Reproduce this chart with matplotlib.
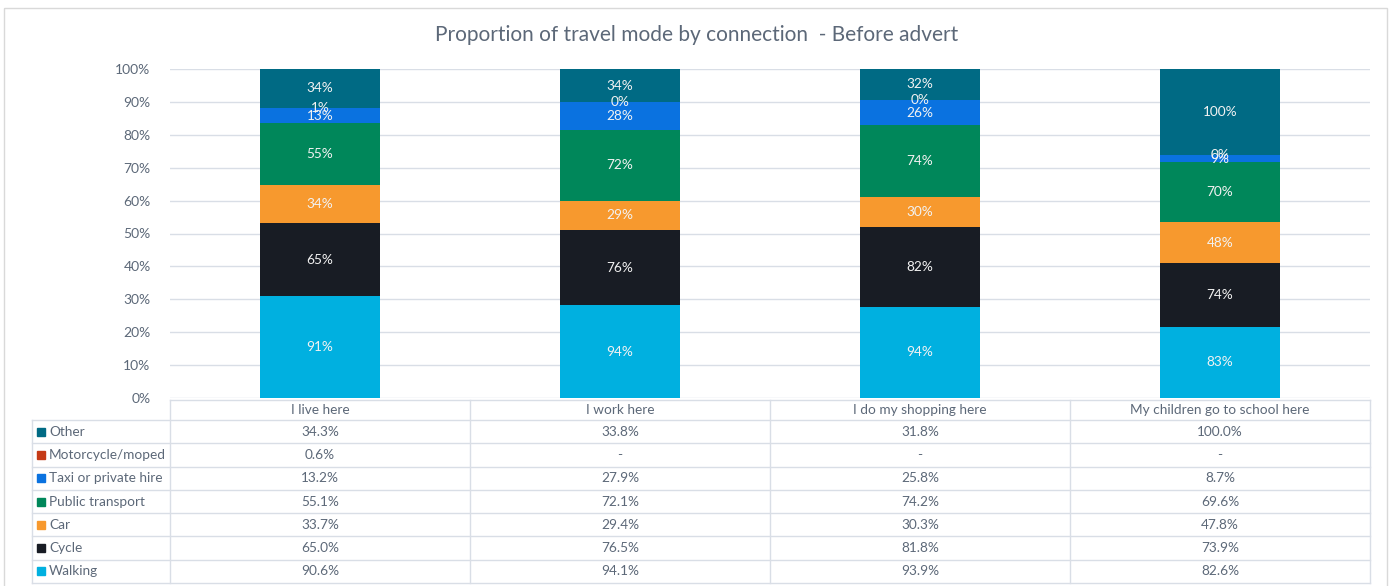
import matplotlib
matplotlib.use('Agg')
import matplotlib.pyplot as plt
from matplotlib.patches import Rectangle
import numpy as np

plt.rcParams['font.family'] = ['Lato', 'DejaVu Sans']

# data (raw % per connection, shown in the table)
connections = ['I live here', 'I work here', 'I do my shopping here', 'My children go to school here']
modes = ['Walking', 'Cycle', 'Car', 'Public transport', 'Taxi or private hire', 'Motorcycle/moped', 'Other']
walking = [90.6, 94.1, 93.9, 82.6]
cycle = [65.0, 76.5, 81.8, 73.9]
car = [33.7, 29.4, 30.3, 47.8]
public_transport = [55.1, 72.1, 74.2, 69.6]
taxi = [13.2, 27.9, 25.8, 8.7]
motorcycle = [0.6, 0.0, 0.0, 0.0]
other = [34.3, 33.8, 31.8, 100.0]
colors = ['#00B0E0', '#181C24', '#F7992E', '#00875A', '#0A72E0', '#C53A16', '#006A84']

values = np.array([walking, cycle, car, public_transport, taxi, motorcycle, other])
share = values / values.sum(axis=0)

txt = '#5C6878'
grid = '#D9DEE6'
W, H = 1394, 586
fig = plt.figure(figsize=(W / 100, H / 100), dpi=100)

# layout in pixels
left, right, top, bottom = 170, 1370, 69, 398
ax = fig.add_axes([left / W, (H - bottom) / H, (right - left) / W, (bottom - top) / H])

x = np.arange(len(connections))
base = np.zeros(len(connections))
for i, m in enumerate(modes):
    ax.bar(x, share[i], 0.4, bottom=base, color=colors[i], zorder=2)
    for j in range(len(x)):
        ax.text(x[j], base[j] + share[i][j] / 2, '%d%%' % round(values[i][j]),
                ha='center', va='center', color='#F2F2F2', fontsize=9.8, zorder=3)
    base += share[i]

ax.set_xlim(-0.5, len(connections) - 0.5)
ax.set_ylim(0, 1)
ax.set_yticks(np.arange(0, 1.01, 0.1))
ax.set_yticklabels(['%d%%' % round(t * 100) for t in np.arange(0, 1.01, 0.1)])
ax.set_xticks([])
ax.tick_params(axis='y', length=0, pad=14, labelsize=10, labelcolor=txt)
ax.grid(axis='y', color=grid, lw=1, zorder=0)
for s in ax.spines.values():
    s.set_visible(False)

# overlay in pixel coords for title, border and data table
ov = fig.add_axes([0, 0, 1, 1])
ov.set_xlim(0, W)
ov.set_ylim(H, 0)
ov.axis('off')
ov.patch.set_alpha(0)

ov.add_patch(Rectangle((4, 8), 1383, 600, fill=False, ec='#D9D9D9', lw=1))
ov.text(W / 2, 35, 'Proportion of travel mode by connection  - Before advert',
        ha='center', va='center', fontsize=15, color=txt)

col_w = (right - left) / len(connections)
head_top, head_bot, tab_bot, lab_left = 400, 420, 583, 32
row_h = (tab_bot - head_bot) / len(modes)

ov.plot([left, right], [head_top, head_top], color=grid, lw=1)
for k in range(len(modes) + 1):
    yy = head_bot + k * row_h
    ov.plot([lab_left, right], [yy, yy], color=grid, lw=1)
ov.plot([lab_left, lab_left], [head_bot, tab_bot], color=grid, lw=1)
for j in range(len(connections) + 1):
    xx = left + j * col_w
    ov.plot([xx, xx], [head_top, tab_bot], color=grid, lw=1)

for j, c in enumerate(connections):
    ov.text(left + (j + 0.5) * col_w, (head_top + head_bot) / 2, c,
            ha='center', va='center', fontsize=9.8, color=txt)

# table rows go top to bottom in reverse stacking order
for r, i in enumerate(range(len(modes) - 1, -1, -1)):
    yc = head_bot + (r + 0.5) * row_h
    ov.add_patch(Rectangle((37, yc - 4), 8, 8, color=colors[i]))
    ov.text(49, yc, modes[i], ha='left', va='center', fontsize=9.8, color=txt)
    for j in range(len(connections)):
        v = values[i][j]
        s = '%.1f%%' % v if v > 0 else '-'
        ov.text(left + (j + 0.5) * col_w, yc, s, ha='center', va='center', fontsize=9.8, color=txt)

fig.savefig('out.png', dpi=100)
